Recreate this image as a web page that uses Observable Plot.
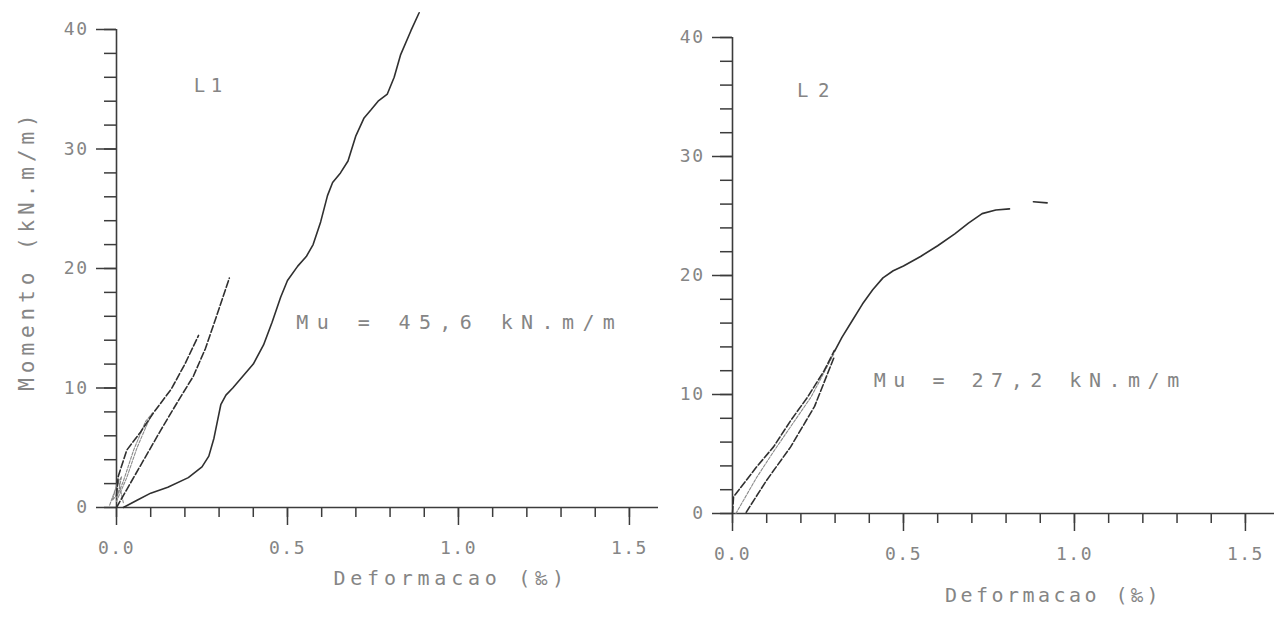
<!DOCTYPE html>
<html>
<head>
<meta charset="utf-8">
<script src="https://cdn.jsdelivr.net/npm/d3@7"></script>
<script src="https://cdn.jsdelivr.net/npm/@observablehq/plot@0.6"></script>
<style>
  html, body { margin: 0; padding: 0; background: #fff; }
  #chart { position: relative; width: 1282px; height: 622px; overflow: hidden; background: #fff; }
  #chart svg { position: absolute; top: 0; }
  #chart text { letter-spacing: 1.5px; }
</style>
</head>
<body>
<div id="chart"></div>
<script>
// ---- Slab L1 ----
// main loading branch up to failure
const l1MainStrain = [0.02, 0.06, 0.10, 0.15, 0.21, 0.25, 0.27, 0.285, 0.295, 0.305, 0.32, 0.34, 0.37, 0.40, 0.43, 0.455, 0.48, 0.50, 0.53, 0.555, 0.575, 0.597, 0.617, 0.632, 0.655, 0.677, 0.70, 0.724, 0.745, 0.765, 0.792, 0.812, 0.831, 0.861, 0.885];
const l1MainMoment = [0, 0.6, 1.2, 1.7, 2.5, 3.4, 4.3, 5.8, 7.2, 8.6, 9.4, 10.0, 11.0, 12.0, 13.6, 15.5, 17.6, 19.0, 20.2, 21.0, 22.0, 23.9, 26.1, 27.2, 28.0, 29.0, 31.1, 32.6, 33.3, 34.0, 34.6, 36.0, 37.9, 39.9, 41.4];
// second service cycle (to ~19 kN.m/m)
const l1CycleBStrain = [0.0, 0.03, 0.08, 0.13, 0.18, 0.225, 0.26, 0.29, 0.33];
const l1CycleBMoment = [0, 1.5, 4.0, 6.5, 8.9, 11.0, 13.3, 15.8, 19.2];
// first service cycle (to ~14 kN.m/m)
const l1CycleAStrain = [0.0, 0.005, 0.03, 0.07, 0.11, 0.16, 0.20, 0.24];
const l1CycleAMoment = [1.0, 2.6, 4.8, 6.3, 8.0, 9.9, 12.0, 14.4];
// small hysteresis loop and settling near the origin
const l1LoopStrain = [0.0, 0.03, 0.06, 0.09, 0.105, 0.085, 0.05, 0.02, 0.0];
const l1LoopMoment = [0.5, 2.5, 5.0, 7.0, 7.9, 7.2, 4.8, 2.2, 0.8];
const l1OriginStrain = [-0.02, 0.0, 0.015, 0.005, -0.012, 0.005, 0.02];
const l1OriginMoment = [0.2, 1.8, 2.6, 1.2, 0.6, 2.3, 0.4];

// ---- Slab L2 ----
const l2MainStrain = [0.298, 0.32, 0.35, 0.38, 0.41, 0.44, 0.47, 0.50, 0.55, 0.60, 0.65, 0.69, 0.73, 0.77, 0.81];
const l2MainMoment = [13.6, 14.8, 16.2, 17.6, 18.8, 19.8, 20.4, 20.8, 21.6, 22.5, 23.5, 24.4, 25.2, 25.5, 25.6];
const l2TailStrain = [0.88, 0.92];
const l2TailMoment = [26.2, 26.1];
const l2UpperStrain = [0.0, 0.003, 0.07, 0.12, 0.17, 0.22, 0.268, 0.298];
const l2UpperMoment = [0, 1.4, 3.9, 5.6, 7.8, 9.8, 12.0, 13.7];
const l2MiddleStrain = [0.01, 0.07, 0.12, 0.17, 0.23, 0.298];
const l2MiddleMoment = [0, 3.0, 5.2, 7.3, 9.8, 13.5];
const l2LowerStrain = [0.04, 0.10, 0.17, 0.24, 0.298];
const l2LowerMoment = [0.1, 2.8, 5.6, 9.0, 13.2];

// ---- axes ----
const yMajorTicks = [0, 10, 20, 30, 40];
const yMinorTicks = [0, 2, 4, 6, 8, 10, 12, 14, 16, 18, 20, 22, 24, 26, 28, 30, 32, 34, 36, 38, 40];
const xMajorTicks = [0, 0.5, 1.0, 1.5];
const xMinorTicks = [0, 0.1, 0.2, 0.3, 0.4, 0.5, 0.6, 0.7, 0.8, 0.9, 1.0, 1.1, 1.2, 1.3, 1.4, 1.5];

// ---- texts ----
const yTitle = "Momento (kN.m/m)";
const xTitle = "Deformacao (‰)";
const l1Name = "L1";
const l2Name = "L2";
const l1Mu = "Mu = 45,6 kN.m/m";
const l2Mu = "Mu = 27,2 kN.m/m";

const ink = "#303030";
const axisInk = "#3c3c3c";
const textInk = "#858585";
// plotter-style lettering: even, wide monospaced glyphs
const font = "'DejaVu Sans Mono', 'Liberation Mono', monospace";

function axes() {
  return [
    Plot.ruleY([0], {stroke: axisInk, strokeWidth: 1.6}),
    Plot.ruleX([0], {stroke: axisInk, strokeWidth: 1.6}),
    Plot.axisY(yMinorTicks, {anchor: "left", tickSize: 12, fill: "none", stroke: axisInk, strokeWidth: 1.5, label: null}),
    Plot.axisY(yMajorTicks, {anchor: "left", tickSize: 20, tickPadding: 8, tickFormat: "d", stroke: axisInk, strokeWidth: 1.5, fill: textInk, fontSize: 18, label: null}),
    Plot.axisX(xMinorTicks, {anchor: "bottom", tickSize: 10, fill: "none", stroke: axisInk, strokeWidth: 1.5, label: null}),
    Plot.axisX(xMajorTicks, {anchor: "bottom", tickSize: 18, tickPadding: 16, tickFormat: ".1f", stroke: axisInk, strokeWidth: 1.5, fill: textInk, fontSize: 18, label: null})
  ];
}

function curve(xs, ys, opts) {
  return Plot.line(xs, {x: xs, y: ys, curve: "linear", strokeLinejoin: "round", ...opts});
}

const solid = {stroke: ink, strokeWidth: 1.6};
const dashed = {stroke: ink, strokeWidth: 1.6, strokeDasharray: "7,2.5"};
const faint = {stroke: "#8a8a8a", strokeWidth: 1.1, strokeDasharray: "3,1.5"};

const styleBase = {fontFamily: font, fontSize: "18px", color: textInk, background: "transparent", overflow: "visible"};

const left = Plot.plot({
  width: 665, height: 622,
  marginLeft: 116, marginRight: 7, marginTop: 29, marginBottom: 115,
  x: {domain: [0, 1.585]},
  y: {domain: [0, 40]},
  style: styleBase,
  marks: [
    ...axes(),
    curve(l1OriginStrain, l1OriginMoment, faint),
    curve(l1LoopStrain, l1LoopMoment, faint),
    curve(l1CycleAStrain, l1CycleAMoment, dashed),
    curve(l1CycleBStrain, l1CycleBMoment, dashed),
    curve(l1MainStrain, l1MainMoment, solid),
    Plot.text([yTitle], {x: [-0.262], y: [21.4], rotate: -90, fontSize: 21, fill: textInk}),
    Plot.text([xTitle], {frameAnchor: "bottom", dx: 62, dy: 71, lineAnchor: "middle", fontSize: 20, fill: textInk}),
    Plot.text([l1Name], {x: [0.27], y: [35.3], fontSize: 19, fill: textInk}),
    Plot.text([l1Mu], {x: [0.526], y: [15.5], textAnchor: "start", fontSize: 20, fill: textInk})
  ]
});

const right = Plot.plot({
  width: 617, height: 622,
  marginLeft: 67, marginRight: 8, marginTop: 37, marginBottom: 109,
  x: {domain: [0, 1.585]},
  y: {domain: [0, 40]},
  style: styleBase,
  marks: [
    ...axes(),
    curve(l2MiddleStrain, l2MiddleMoment, faint),
    curve(l2UpperStrain, l2UpperMoment, dashed),
    curve(l2LowerStrain, l2LowerMoment, dashed),
    curve(l2MainStrain, l2MainMoment, solid),
    curve(l2TailStrain, l2TailMoment, solid),
    Plot.text([xTitle], {frameAnchor: "bottom", dx: 49, dy: 82, lineAnchor: "middle", fontSize: 20, fill: textInk}),
    Plot.text([l2Name], {x: [0.238], y: [35.5], fontSize: 19, fill: textInk}),
    Plot.text([l2Mu], {x: [0.413], y: [11.2], textAnchor: "start", fontSize: 20, fill: textInk})
  ]
});

left.style.left = "0px";
right.style.left = "665px";
const chart = document.getElementById("chart");
chart.append(left, right);

// plotter lettering is wide: stretch the free texts to their drawn length
function stretch(svg, str, len) {
  d3.select(svg).selectAll("text")
    .filter(function() { return this.textContent === str; })
    .attr("textLength", len)
    .attr("lengthAdjust", "spacing");
}
stretch(left, yTitle, 278);
stretch(left, xTitle, 232);
stretch(right, xTitle, 215);
stretch(left, l1Mu, 320);
stretch(right, l2Mu, 307);
stretch(left, l1Name, 30);
stretch(right, l2Name, 34);
</script>
</body>
</html>
